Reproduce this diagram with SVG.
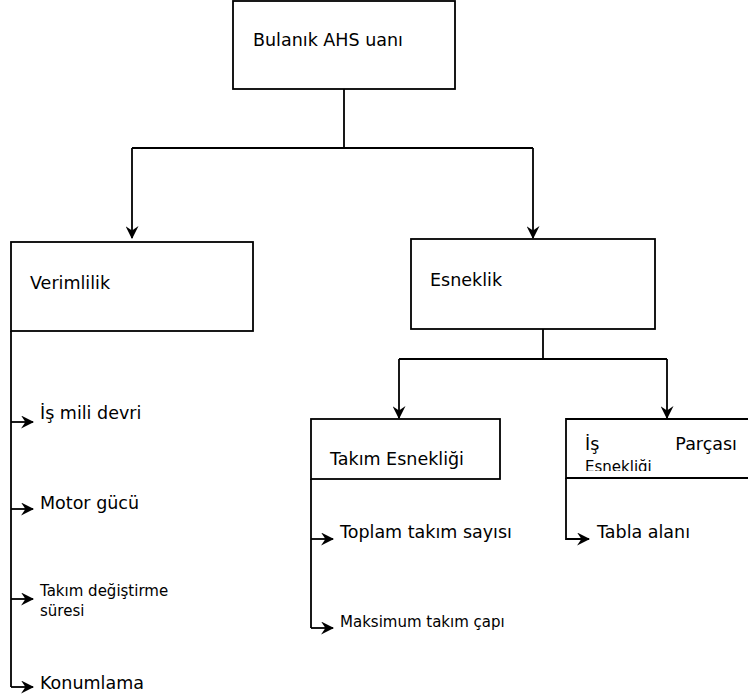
<svg xmlns="http://www.w3.org/2000/svg" width="748" height="700" viewBox="0 0 748 700">
<defs>
<style>
.box{fill:#fff;stroke:#000;stroke-width:1.8}
.ln{fill:none;stroke:#000;stroke-width:1.8}
.t{font-family:"DejaVu Sans",Verdana,sans-serif;font-size:17.5px;fill:#000}
.s{font-family:"DejaVu Sans",Verdana,sans-serif;font-size:15px;fill:#000}
</style>
<marker id="ah" viewBox="0 0 12 12" refX="11" refY="6" markerWidth="13" markerHeight="13" markerUnits="userSpaceOnUse" orient="auto">
<path d="M0,0 L12,6 L0,12 L4,6 z" fill="#000"/>
</marker>
<clipPath id="cp"><rect x="566" y="419" width="182" height="52"/></clipPath>
</defs>
<g id="connectors">
<path class="ln" d="M344,89 V148 M132,148 H533" />
<path class="ln" d="M132,148 V238" marker-end="url(#ah)"/>
<path class="ln" d="M533,148 V238" marker-end="url(#ah)"/>
<path class="ln" d="M543,329 V359 M399,359 H667"/>
<path class="ln" d="M399,359 V418" marker-end="url(#ah)"/>
<path class="ln" d="M667,359 V418" marker-end="url(#ah)"/>
<path class="ln" d="M11,331 V687"/>
<path class="ln" d="M11,422 H33" marker-end="url(#ah)"/>
<path class="ln" d="M11,509 H33" marker-end="url(#ah)"/>
<path class="ln" d="M11,599 H33" marker-end="url(#ah)"/>
<path class="ln" d="M11,687 H33" marker-end="url(#ah)"/>
<path class="ln" d="M311,479 V628"/>
<path class="ln" d="M311,539 H333" marker-end="url(#ah)"/>
<path class="ln" d="M311,628 H333" marker-end="url(#ah)"/>
<path class="ln" d="M566,478 V539 H589" marker-end="url(#ah)"/>
</g>
<g id="root">
<rect class="box" x="233" y="1" width="222" height="88"/>
<text class="t" x="253" y="46">Bulanık AHS uanı</text>
</g>
<g id="verimlilik">
<rect class="box" x="11" y="242" width="242" height="89"/>
<text class="t" x="30" y="289">Verimlilik</text>
</g>
<g id="esneklik">
<rect class="box" x="411" y="239" width="244" height="90"/>
<text class="t" x="430" y="286">Esneklik</text>
</g>
<g id="takim-esnekligi">
<rect class="box" x="311" y="419" width="189" height="60"/>
<text class="t" x="330" y="465">Takım Esnekliği</text>
</g>
<g id="is-parcasi-esnekligi">
<path class="box" d="M750,419 H566 V478 H750"/>
<text class="t" x="585" y="450">İş</text>
<text class="t" x="737" y="450" text-anchor="end">Parçası</text>
<text class="s" x="585" y="472" clip-path="url(#cp)">Esnekliği</text>
</g>
<g id="is-mili-devri"><text class="t" x="40" y="419">İş mili devri</text></g>
<g id="motor-gucu"><text class="t" x="40" y="509">Motor gücü</text></g>
<g id="takim-degistirme"><text class="s" x="40" y="596">Takım değiştirme</text><text class="s" x="40" y="616">süresi</text></g>
<g id="konumlama"><text class="t" x="40" y="689">Konumlama</text></g>
<g id="toplam-takim"><text class="t" x="340" y="538">Toplam takım sayısı</text></g>
<g id="maksimum-takim"><text class="s" x="340" y="627">Maksimum takım çapı</text></g>
<g id="tabla-alani"><text class="t" x="597" y="538">Tabla alanı</text></g>
</svg>
